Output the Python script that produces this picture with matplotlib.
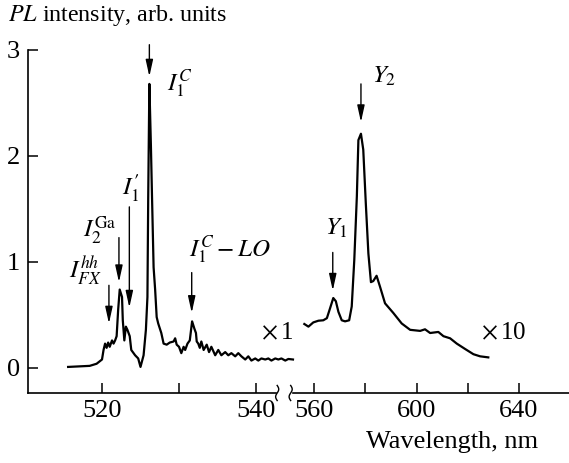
import numpy as np
import matplotlib
matplotlib.use("Agg")
import matplotlib.pyplot as plt
import matplotlib.transforms as mtransforms

plt.rcParams['font.family'] = ['Liberation Serif', 'DejaVu Serif']
plt.rcParams['mathtext.fontset'] = 'stix'
plt.rcParams['font.size'] = 18

# ---- data (x1 part, wavelength nm / PL intensity) ----
left_wl = [515.6, 518.4, 519.3, 520.0, 520.2, 520.4, 520.6, 520.8, 521.0, 521.3,
           521.5, 521.7, 521.9, 522.1, 522.3, 522.6, 522.7, 522.9, 523.1, 523.3,
           523.6, 523.8, 524.3, 524.7, 525.0, 525.4, 525.7, 525.9, 526.0, 526.15,
           526.35, 526.5, 526.7, 526.9, 527.1, 527.3, 527.7, 528.0, 528.4, 528.8,
           529.3, 529.5, 529.7, 530.0, 530.3, 530.6, 530.8, 531.1, 531.4, 531.7,
           532.0, 532.2, 532.3, 532.5, 532.7, 532.9, 533.2, 533.6, 533.9, 534.2,
           534.7, 535.1, 535.5, 536.0, 536.4, 536.8, 537.3, 537.7, 538.1, 538.6,
           539.0, 539.4, 539.9, 540.3, 540.7, 541.2, 541.6, 542.0, 542.5, 542.9,
           543.3, 543.8, 544.2, 544.8]
left_int = [0.01, 0.02, 0.04, 0.08, 0.17, 0.23, 0.19, 0.24, 0.20, 0.26,
            0.23, 0.26, 0.30, 0.55, 0.74, 0.67, 0.45, 0.26, 0.39, 0.36,
            0.30, 0.17, 0.12, 0.09, 0.01, 0.12, 0.36, 0.67, 1.60, 2.68,
            2.10, 1.60, 0.95, 0.74, 0.48, 0.42, 0.33, 0.23, 0.22, 0.24,
            0.25, 0.28, 0.22, 0.20, 0.14, 0.20, 0.17, 0.23, 0.26, 0.44,
            0.37, 0.33, 0.25, 0.23, 0.19, 0.25, 0.17, 0.22, 0.15, 0.20,
            0.12, 0.17, 0.12, 0.15, 0.12, 0.14, 0.11, 0.14, 0.11, 0.08,
            0.11, 0.07, 0.09, 0.07, 0.09, 0.08, 0.09, 0.07, 0.09, 0.08,
            0.09, 0.07, 0.085, 0.08]

# ---- data (x10 part) ----
right_wl = [556.2, 557.8, 559.7, 561.7, 563.6, 565.0, 566.2, 567.5, 568.5, 569.5,
            570.8, 572.1, 573.7, 574.7, 575.7, 576.7, 577.3, 578.3, 579.2, 580.2,
            581.2, 582.2, 583.1, 584.4, 585.7, 587.7, 590.9, 594.2, 597.5, 601.4,
            603.3, 605.3, 608.5, 610.5, 613.1, 615.7, 618.9, 622.2, 624.8, 628.0]
right_int = [0.415, 0.39, 0.43, 0.446, 0.45, 0.47, 0.56, 0.66, 0.63, 0.53,
             0.45, 0.44, 0.45, 0.58, 1.02, 1.62, 2.15, 2.21, 2.06, 1.55,
             1.08, 0.81, 0.82, 0.87, 0.77, 0.61, 0.52, 0.42, 0.36, 0.35,
             0.365, 0.33, 0.34, 0.30, 0.28, 0.23, 0.18, 0.13, 0.11, 0.10]

x_ticks = [520, 530, 540, 560, 580, 600, 620, 640]
x_tick_labels = ['520', '', '540', '560', '', '600', '', '640']
y_ticks = [0, 1, 2, 3]
y_tick_labels = ['0', '1', '2', '3']

# broken wavelength axis: compressed scale above the break
bp_in = [400.0, 545.0, 552.4, 700.0]
bp_out = [400.0, 545.0, 545.01, 547.53 + 140.0 * 0.33279]


def fwd(x):
    return np.interp(x, bp_in, bp_out)


def inv(u):
    return np.interp(u, bp_out, bp_in)


fig = plt.figure(figsize=(5.69, 4.63), dpi=100)
ax = fig.add_axes([28 / 569, (463 - 393) / 463, 541 / 569, 343 / 463])
ax.set_xscale('function', functions=(fwd, inv))
ax.set_xlim(510.39, 659.5)
ax.set_ylim(-0.236, 3.0)

ax.plot(left_wl, left_int, color='k', lw=1.6)
ax.plot(right_wl, right_int, color='k', lw=1.6)

ax.set_xticks(x_ticks)
ax.set_xticklabels(x_tick_labels)
ax.set_yticks(y_ticks)
ax.set_yticklabels(y_tick_labels)
ax.tick_params(direction='in', length=7, width=1.1, pad=5, labelsize=19)
ax.tick_params(axis='y', pad=6)
ax.minorticks_off()

for s in ['top', 'right', 'bottom']:
    ax.spines[s].set_visible(False)
ax.spines['left'].set_linewidth(1.2)

# bottom axis line with break
trans = mtransforms.blended_transform_factory(ax.transData, ax.transAxes)
ax.plot([510.39, 542.6], [0, 0], color='k', lw=1.2, transform=trans, clip_on=False)
ax.plot([544.8, 659.5], [0, 0], color='k', lw=1.2, transform=trans, clip_on=False)
t = np.linspace(-1, 1, 40)
for x0 in [542.75, 544.5]:
    ax.plot(x0 + 0.2 * np.sin(np.pi * t), 0.022 * t, color='k', lw=1.0,
            transform=trans, clip_on=False)

# peak arrows
arrows = [(520.9, 0.78, 0.42), (522.2, 1.23, 0.81), (523.55, 1.52, 0.57),
          (526.15, 3.05, 2.75), (531.65, 0.90, 0.52), (567.3, 1.09, 0.73),
          (578.3, 2.68, 2.32)]
for x, y0, y1 in arrows:
    ax.annotate('', xy=(x, y1), xytext=(x, y0),
                arrowprops=dict(arrowstyle='-|>,head_length=1.0,head_width=0.22',
                                mutation_scale=10, lw=1.0, color='k',
                                shrinkA=0, shrinkB=0), annotation_clip=False)

labels = [(r'$I_{FX}^{hh}$', 517.9, 0.92), (r'$I_2^{\rm Ga}$', 519.7, 1.30),
          (r'$I_1^{\mathbf{\prime}}$', 523.7, 1.70), (r'$I_1^C$', 530.1, 2.68),
          (r'$I_1^C - LO$', 536.6, 1.12), (r'$Y_1$', 568.8, 1.32),
          (r'$Y_2$', 587.3, 2.75)]
for s, x, y in labels:
    ax.text(x, y, s, ha='center', va='center', fontsize=18)

ax.text(542.7, 0.33, r'$\times\,$1', ha='center', va='center', fontsize=18)
ax.text(633.8, 0.33, r'$\times\,$10', ha='center', va='center', fontsize=18)

fig.text(8 / 569, 1 - 3 / 463, r'$PL$ intensity, arb. units', ha='left', va='top', fontsize=17.3)
fig.text(538 / 569, (463 - 448) / 463, 'Wavelength, nm', ha='right', va='baseline', fontsize=19)

fig.savefig('out.png', dpi=100)
